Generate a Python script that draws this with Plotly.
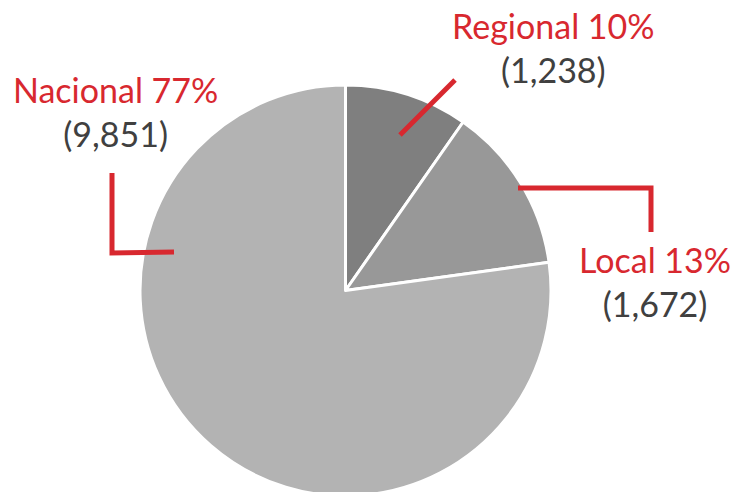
import plotly.graph_objects as go

# data
labels = ["Regional", "Local", "Nacional"]
values = [1238, 1672, 9851]
colors = ["#7f7f7f", "#989898", "#b3b3b3"]

W, H = 733, 500
RED = "#d8282f"
GRAY_TXT = "#404040"


def px(x, y):
    # pixel -> paper coords
    return x / W, 1 - y / H


total = sum(values)

fig = go.Figure()
fig.add_trace(
    go.Pie(
        labels=labels,
        values=values,
        sort=False,
        direction="clockwise",
        rotation=0,
        textinfo="none",
        hoverinfo="label+value+percent",
        marker=dict(colors=colors, line=dict(color="white", width=3)),
        domain=dict(x=[140 / W, 551 / W], y=[1 - 496 / H, 1 - 85 / H]),
        showlegend=False,
    )
)

# label positions (pixel centres of the two-line block)
label_pos = {"Regional": (553, 48), "Local": (655, 281), "Nacional": (115, 112)}
for lab, val in zip(labels, values):
    pct = round(val / total * 100)
    x, y = px(*label_pos[lab])
    fig.add_annotation(
        x=x, y=y, xref="paper", yref="paper",
        text=(f"<span style='color:{RED}'>{lab} {pct}%</span><br>"
              f"<span style='color:{GRAY_TXT}'>({val:,})</span>"),
        showarrow=False, xanchor="center", yanchor="middle",
        font=dict(family="Lato", size=34),
    )

# leader lines
leaders = [
    [(400, 135), (455, 80)],
    [(518, 188), (651, 188), (651, 232)],
    [(112, 173), (112, 253), (174, 252)],
]
for pts in leaders:
    p = [px(*q) for q in pts]
    path = "M " + " L ".join(f"{a},{b}" for a, b in p)
    fig.add_shape(type="path", path=path, xref="paper", yref="paper",
                  line=dict(color=RED, width=5))

fig.update_layout(
    width=W, height=H,
    margin=dict(l=0, r=0, t=0, b=0),
    paper_bgcolor="white",
    plot_bgcolor="white",
)

fig.write_html(
    "out.html",
    config={"displayModeBar": False},
    post_script="document.body.style.margin='0';document.body.style.overflow='hidden';",
)
